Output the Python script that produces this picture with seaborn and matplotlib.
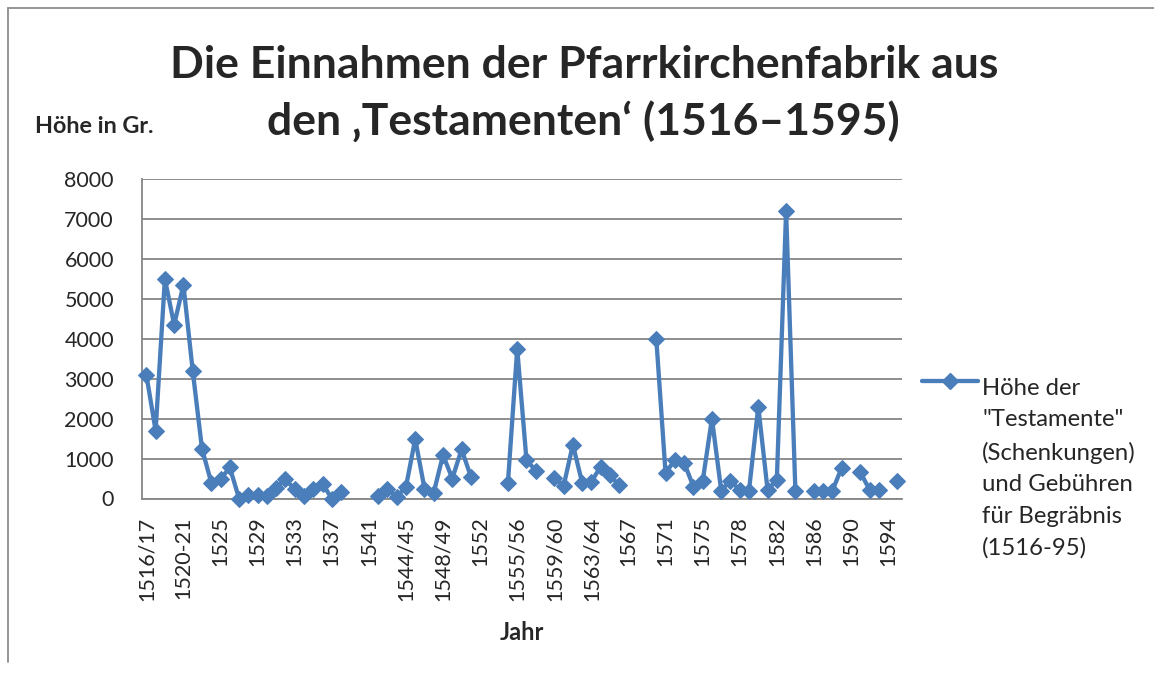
import numpy as np
import pandas as pd
import seaborn as sns
import matplotlib.pyplot as plt
from matplotlib.lines import Line2D

# Categories (years); only every 4th one is labelled on the axis
categories = [
    "1516/17", "1517/18", "1518/19", "1519/20", "1520-21", "1522", "1523", "1524",
    "1525", "1526", "1527", "1528", "1529", "1530", "1531", "1532",
    "1533", "1534", "1535", "1536", "1537", "1538", "1539", "1540",
    "1541", "1542", "1543", "1544", "1544/45", "1545/46", "1546/47", "1547/48",
    "1548/49", "1549/50", "1550", "1551", "1552", "1553", "1554", "1555",
    "1555/56", "1556/57", "1557/58", "1558/59", "1559/60", "1560/61", "1561/62", "1562/63",
    "1563/64", "1564", "1565", "1566", "1567", "1568", "1569", "1570",
    "1571", "1572", "1573", "1574", "1575", "1576", "1577", "1577/78",
    "1578", "1579", "1580", "1581", "1582", "1583", "1584", "1585",
    "1586", "1587", "1588", "1589", "1590", "1591", "1592", "1593",
    "1594", "1595",
]

# Höhe in Gr. (NaN = no entry, line is broken there)
values = [
    3100, 1700, 5500, 4350, 5350, 3200, 1250, 400,
    480, 780, 0, 100, 100, 60, 260, 480,
    230, 60, 230, 370, 0, 160, np.nan, np.nan,
    np.nan, 60, 250, 40, 290, 1490, 250, 150,
    1090, 500, 1230, 550, np.nan, np.nan, np.nan, 400,
    3750, 960, 700, np.nan, 520, 310, 1350, 400,
    420, 800, 580, 330, np.nan, np.nan, np.nan, 4000,
    630, 970, 900, 300, 430, 2000, 200, 450,
    210, 200, 2300, 220, 460, 7200, 200, np.nan,
    200, 200, 200, 770, np.nan, 660, 220, 220,
    np.nan, 430,
]

tick_labels = categories[::4]

legend_label = 'Höhe der\n"Testamente"\n(Schenkungen)\nund Gebühren\nfür Begräbnis\n(1516-95)'

sns.set_style("white")
plt.rcParams["font.family"] = ["Lato", "DejaVu Sans"]

df = pd.DataFrame({"jahr": categories, "pos": np.arange(len(categories)), "hoehe": values})
df["segment"] = df["hoehe"].isna().cumsum()
df = df.dropna()

blue = "#4A7EBB"
grey = "#868686"
W, H = 1154, 677

fig = plt.figure(figsize=(W / 100, H / 100), dpi=100)
ax = fig.add_axes([141.7 / W, 1 - 498.5 / H, (902 - 141.7) / W, (498.5 - 179) / H])

sns.lineplot(
    data=df, x="pos", y="hoehe", units="segment", estimator=None,
    color=blue, lw=3.1, marker="D", markersize=8.5, markeredgecolor=blue,
    legend=False, clip_on=False, zorder=3, ax=ax,
)

# axes styling (Excel look)
ax.set_xlim(-0.5, len(categories) - 0.5)
ax.set_ylim(0, 8000)
ax.set_yticks(range(0, 8001, 1000))
ax.yaxis.grid(True, color=grey, lw=1.3)
ax.set_axisbelow(True)
for s in ["top", "right"]:
    ax.spines[s].set_visible(False)
for s in ["left", "bottom"]:
    ax.spines[s].set_color(grey)
    ax.spines[s].set_linewidth(1.3)

ax.set_xticks(np.arange(0, len(categories), 4))
ax.set_xticklabels(tick_labels, rotation=90)
ax.set_xticks(np.arange(-0.5, len(categories)), minor=True)
ax.tick_params(axis="x", which="major", length=0, pad=13, labelsize=15.5)
ax.tick_params(axis="x", which="minor", length=5, width=1.3, color=grey, direction="out")
ax.tick_params(axis="y", length=6, width=1.3, color=grey, pad=14, labelsize=15.5)
ax.set_xlabel("")
ax.set_ylabel("")

# titles and axis labels
fig.text(584 / W, 1 - 77.5 / H, "Die Einnahmen der Pfarrkirchenfabrik aus",
         ha="center", va="baseline", fontsize=32, fontweight="bold")
fig.text(583 / W, 1 - 135 / H, "den \u201aTestamenten\u2018 (1516\u20131595)",
         ha="center", va="baseline", fontsize=32, fontweight="bold")
fig.text(35 / W, 1 - 132.7 / H, "Höhe in Gr.", ha="left", va="baseline",
         fontsize=16.8, fontweight="bold")
fig.text(521.9 / W, 1 - 633 / H, "Jahr", ha="center", va="center",
         fontsize=17, fontweight="bold")

# legend
fig.add_artist(Line2D([922 / W, 950 / W, 978 / W], [1 - 381 / H] * 3, transform=fig.transFigure,
                      color=blue, lw=3.1, marker="D", markersize=8.5, markevery=[1]))
fig.text(982 / W, 1 - 555 / H, legend_label, ha="left", va="baseline",
         fontsize=17.2, linespacing=1.62)

# chart area border
fig.add_artist(Line2D([8 / W, 8 / W], [1 - 662 / H, 1 - 8 / H], transform=fig.transFigure,
                      color="#8c8c8c", lw=1.3))
fig.add_artist(Line2D([8 / W, 1], [1 - 8 / H, 1 - 8 / H], transform=fig.transFigure,
                      color="#8c8c8c", lw=1.3))

fig.savefig("out.png", dpi=100)
